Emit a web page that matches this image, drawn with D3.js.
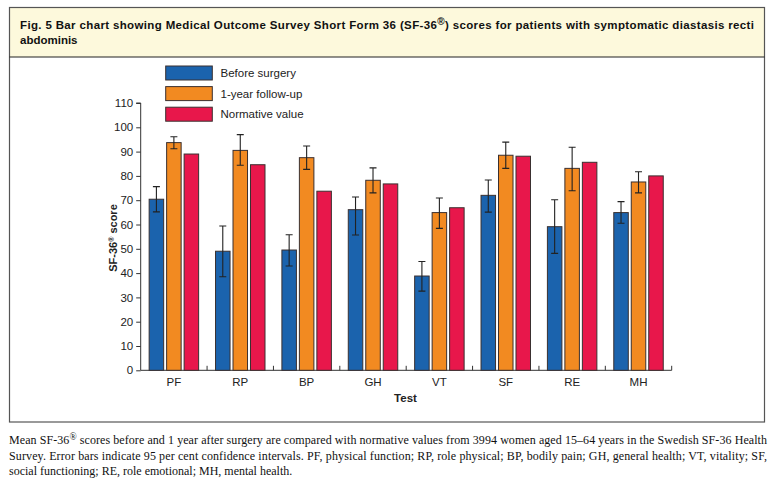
<!DOCTYPE html>
<html><head><meta charset="utf-8">
<script src="https://cdn.jsdelivr.net/npm/d3@7"></script>
<style>body{margin:0;background:#fff}svg{display:block}</style>
</head><body><svg id="c" width="776" height="486"></svg>
<script>
const categories = ["PF","RP","BP","GH","VT","SF","RE","MH"];
const seriesNames = ["Before surgery","1-year follow-up","Normative value"];
const before = [70.4, 49.0, 49.5, 66.1, 38.8, 72.0, 59.1, 64.9];
const beforeLo = [65.2, 38.5, 42.9, 55.7, 32.6, 65.1, 48.1, 60.5];
const beforeHi = [75.6, 59.4, 55.8, 71.3, 44.8, 78.3, 70.2, 69.4];
const followUp = [93.7, 90.5, 87.5, 78.2, 64.9, 88.5, 83.1, 77.5];
const followLo = [91.2, 84.4, 82.7, 73.0, 58.4, 83.1, 73.9, 73.0];
const followHi = [96.1, 97.0, 92.3, 83.3, 70.9, 93.9, 91.8, 81.7];
const normative = [89.0, 84.6, 73.7, 76.7, 66.9, 88.1, 85.6, 80.0];
const yTicks = [0,10,20,30,40,50,60,70,80,90,100,110];
const colors = ["#1b63ad","#f28a21","#e8174b"];

const svg = d3.select("#c");
// frame
svg.append("rect").attr("x",9.5).attr("y",7.5).attr("width",755).attr("height",49.5).attr("fill","#fdf9dc");
svg.append("rect").attr("x",9.5).attr("y",7.5).attr("width",755).attr("height",414.5).attr("fill","none").attr("stroke","#555").attr("stroke-width",1.2);
svg.append("line").attr("x1",9.5).attr("x2",764.5).attr("y1",57).attr("y2",57).attr("stroke","#222").attr("stroke-width",1.2);

// title
const tf = "'Liberation Sans', Arial, sans-serif";
const t1 = svg.append("text").attr("x",20).attr("y",29).attr("font-family",tf).attr("font-weight","bold").attr("font-size",11.5).attr("fill","#111")
  .attr("textLength",734).attr("lengthAdjust","spacing");
t1.append("tspan").text("Fig. 5 Bar chart showing Medical Outcome Survey Short Form 36 (SF-36");
t1.append("tspan").attr("dy",-4).attr("font-size",10).text("®");
t1.append("tspan").attr("dy",4).text(") scores for patients with symptomatic diastasis recti");
svg.append("text").attr("x",20).attr("y",44).attr("font-family",tf).attr("font-weight","bold").attr("font-size",11.5).attr("fill","#111").text("abdominis");

// scales
const x0 = d3.scaleBand().domain(categories).range([140.7,671.7]).paddingInner(0).paddingOuter(0);
const x1 = d3.scaleBand().domain([0,1,2]).range([8.45, x0.bandwidth()-8.45]).paddingInner(0.17).paddingOuter(0);
const y = d3.scaleLinear().domain([0,110]).range([370.3, 103.0]);

// y axis
const yAxis = d3.axisLeft(y).tickValues(yTicks).tickSize(4.5).tickPadding(3);
const gy = svg.append("g").attr("transform","translate(140.7,0)").call(yAxis);
gy.select(".domain").attr("d",`M-4.5,${y(110)}H0V${y(0)}`).attr("stroke","#333");
gy.selectAll(".tick line").attr("stroke","#333");
gy.selectAll("text").attr("font-family",tf).attr("font-size",11.5).attr("fill","#222");

// x axis
const gx = svg.append("g").attr("transform",`translate(0,${y(0)})`);
gx.append("line").attr("x1",140.7).attr("x2",671.7).attr("y1",0).attr("y2",0).attr("stroke","#333");
gx.selectAll(".sep").data(categories).enter().append("line")
  .attr("x1",d=>x0(d)+x0.bandwidth()).attr("x2",d=>x0(d)+x0.bandwidth()).attr("y1",0).attr("y2",-4.5).attr("stroke","#333");
gx.selectAll(".lab").data(categories).enter().append("text")
  .attr("x",d=>x0(d)+x0.bandwidth()/2).attr("y",15.5).attr("text-anchor","middle")
  .attr("font-family",tf).attr("font-size",11.5).attr("fill","#222").text(d=>d);

// axis titles
svg.append("text").attr("x",405.5).attr("y",402).attr("text-anchor","middle").attr("font-family",tf).attr("font-weight","bold").attr("font-size",11.5).attr("fill","#222").text("Test");
const yl = svg.append("text").attr("transform","translate(117,238) rotate(-90)").attr("text-anchor","middle").attr("font-family",tf).attr("font-weight","bold").attr("font-size",11).attr("fill","#222");
yl.append("tspan").text("SF-36");
yl.append("tspan").attr("dy",-3.5).attr("font-size",7).text("®");
yl.append("tspan").attr("dy",3.5).text(" score");

// bars
const series = [before, followUp, normative];
const los = [beforeLo, followLo, null];
const his = [beforeHi, followHi, null];
const g = svg.append("g");
categories.forEach((c,i)=>{
  const gg = g.append("g").attr("transform",`translate(${x0(c)},0)`);
  series.forEach((s,j)=>{
    gg.append("rect").attr("x",x1(j)).attr("y",y(s[i])).attr("width",x1.bandwidth()).attr("height",y(0)-y(s[i]))
      .attr("fill",colors[j]).attr("stroke","#3a3030").attr("stroke-width",1);
  });
  [0,1].forEach(j=>{
    const cx = x1(j)+x1.bandwidth()/2;
    const lo = y(los[j][i]), hi = y(his[j][i]);
    gg.append("path").attr("d",`M${cx},${lo}V${hi}M${cx-3.5},${lo}H${cx+3.5}M${cx-3.5},${hi}H${cx+3.5}`)
      .attr("stroke","#222").attr("stroke-width",1.1).attr("fill","none");
  });
});

// legend
const lg = svg.append("g");
seriesNames.forEach((n,j)=>{
  const yy = 66 + j*20.6;
  lg.append("rect").attr("x",165.7).attr("y",yy).attr("width",46.6).attr("height",14).attr("fill",colors[j]).attr("stroke","#3a3030");
  lg.append("text").attr("x",220.5).attr("y",yy+11).attr("font-family",tf).attr("font-size",11.5).attr("fill","#222").text(n);
});

// caption
const cf = "'Liberation Serif', 'Times New Roman', serif";
const c1 = svg.append("text").attr("x",9).attr("y",444).attr("font-family",cf).attr("font-size",12).attr("fill","#111").attr("textLength",758).attr("lengthAdjust","spacing");
c1.append("tspan").text("Mean SF-36");
c1.append("tspan").attr("dy",-4.5).attr("font-size",9.5).text("®");
c1.append("tspan").attr("dy",4.5).text(" scores before and 1 year after surgery are compared with normative values from 3994 women aged 15–64 years in the Swedish SF-36 Health");
svg.append("text").attr("x",9).attr("y",459.5).attr("font-family",cf).attr("font-size",12).attr("fill","#111").attr("textLength",758).attr("lengthAdjust","spacing")
  .text("Survey. Error bars indicate 95 per cent confidence intervals. PF, physical function; RP, role physical; BP, bodily pain; GH, general health; VT, vitality; SF,");
svg.append("text").attr("x",9).attr("y",475).attr("font-family",cf).attr("font-size",12).attr("fill","#111")
  .text("social functioning; RE, role emotional; MH, mental health.");
</script></body></html>
